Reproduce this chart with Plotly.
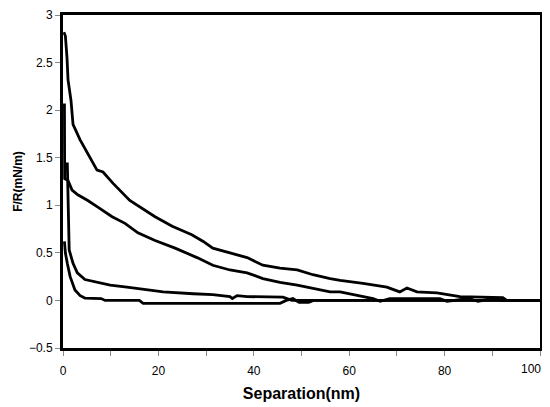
import plotly.graph_objects as go

# force profiles, F/R (mN/m) vs separation (nm)
sep_1 = [0.2, 0.5, 0.84, 1.05, 1.68, 2.1, 3.56, 5.66, 7.13, 8.39, 10.5, 14.0, 19.3, 22.9, 27.0,
         29.4, 31.4, 35.0, 38.6, 41.9, 45.5, 49.1, 52.4, 56.0, 58.1, 62.9, 67.9, 70.6, 72.1, 74.2,
         78.4, 83.2, 92.2, 93.0, 100]
fr_1 = [2.82, 2.78, 2.55, 2.32, 2.1, 1.85, 1.69, 1.51, 1.37, 1.35, 1.23, 1.05, 0.88, 0.78, 0.69,
        0.62, 0.55, 0.50, 0.45, 0.37, 0.34, 0.32, 0.27, 0.23, 0.21, 0.18, 0.14, 0.09, 0.13, 0.09,
        0.08, 0.04, 0.03, 0.0, 0.0]

sep_2 = [0.3, 0.3, 0.35, 1.05, 1.9, 3.1, 5.2, 7.3, 10.3, 13.0, 15.7, 19.3, 23.5, 28.1, 31.4, 35.0,
         38.6, 41.9, 45.5, 49.1, 52.4, 56.0, 58.1, 60.8, 65.0, 66.5, 68.5, 70, 79, 80.5, 85, 87,
         90, 92, 100]
fr_2 = [2.07, 1.6, 1.28, 1.26, 1.16, 1.11, 1.05, 0.98, 0.88, 0.81, 0.71, 0.63, 0.55, 0.45, 0.37,
        0.32, 0.29, 0.23, 0.19, 0.16, 0.13, 0.09, 0.09, 0.06, 0.02, -0.01, 0.02, 0.02, 0.02, -0.01,
        0.02, -0.01, 0.02, 0.0, 0.0]

sep_3 = [0.9, 1.05, 1.1, 1.3, 2.1, 3.0, 4.6, 7.1, 9.9, 13.4, 16.8, 21.0, 27.3, 31.4, 35.0, 35.5,
         36.5, 38.6, 46.1, 48.0, 100]
fr_3 = [1.45, 1.1, 0.8, 0.53, 0.39, 0.29, 0.22, 0.19, 0.16, 0.14, 0.12, 0.09, 0.07, 0.06, 0.04,
        0.02, 0.05, 0.04, 0.035, 0.0, 0.0]

sep_4 = [0.3, 0.5, 0.9, 1.5, 2.5, 3.6, 4.6, 8.0, 8.8, 16.0, 16.8, 45.5, 46.8, 48.2, 49.5, 51.5,
         52.5, 100]
fr_4 = [0.62, 0.5, 0.39, 0.25, 0.11, 0.05, 0.025, 0.02, 0.0, 0.0, -0.03, -0.03, 0.0, 0.02, -0.02,
        -0.02, 0.0, 0.0]

x_labels = [0, 20, 40, 60, 80]
x_last = 100   # drawn separately so it is not clipped at the page edge

fig = go.Figure()
for xs, ys in [(sep_1, fr_1), (sep_2, fr_2), (sep_3, fr_3), (sep_4, fr_4)]:
    fig.add_trace(go.Scatter(x=xs, y=ys, mode='lines',
                             line=dict(color='black', width=2.8),
                             showlegend=False, hoverinfo='skip'))

fnt = "Arial, Liberation Sans, sans-serif"
# page body has an 8px margin, so the figure is 8px smaller than the window
fig.update_layout(
    width=542, height=399,
    margin=dict(l=55, r=10, t=7, b=59),
    paper_bgcolor='white', plot_bgcolor='white',
    font=dict(family=fnt, size=12, color='black'),
)
fig.add_annotation(x=x_last, xref='x', y=0, yref='paper', text=str(x_last),
                   showarrow=False, xanchor='center', yanchor='middle',
                   xshift=-9, yshift=-21, font=dict(size=12))
fig.update_xaxes(
    range=[0, 100], tickvals=x_labels,
    showgrid=False, zeroline=False,
    showline=True, linecolor='black', linewidth=3, mirror=True,
    ticks='outside', ticklen=5, tickwidth=1, tickcolor='#888',
    minor=dict(dtick=10, tick0=0, ticks='outside', ticklen=5, tickwidth=1, tickcolor='#888'),
    ticklabelstandoff=5,
    title=dict(text='<b>Separation(nm)</b>', font=dict(size=16), standoff=11),
    automargin=False,
)
fig.update_yaxes(
    range=[-0.5, 3], dtick=0.5, tick0=0,
    showgrid=False, zeroline=False,
    showline=True, linecolor='black', linewidth=3, mirror=True,
    ticks='outside', ticklen=5, tickwidth=1, tickcolor='#888',
    title=dict(text='<b>F/R(mN/m)</b>', font=dict(size=12), standoff=4),
    automargin=False,
)

fig.write_html("out.html")
